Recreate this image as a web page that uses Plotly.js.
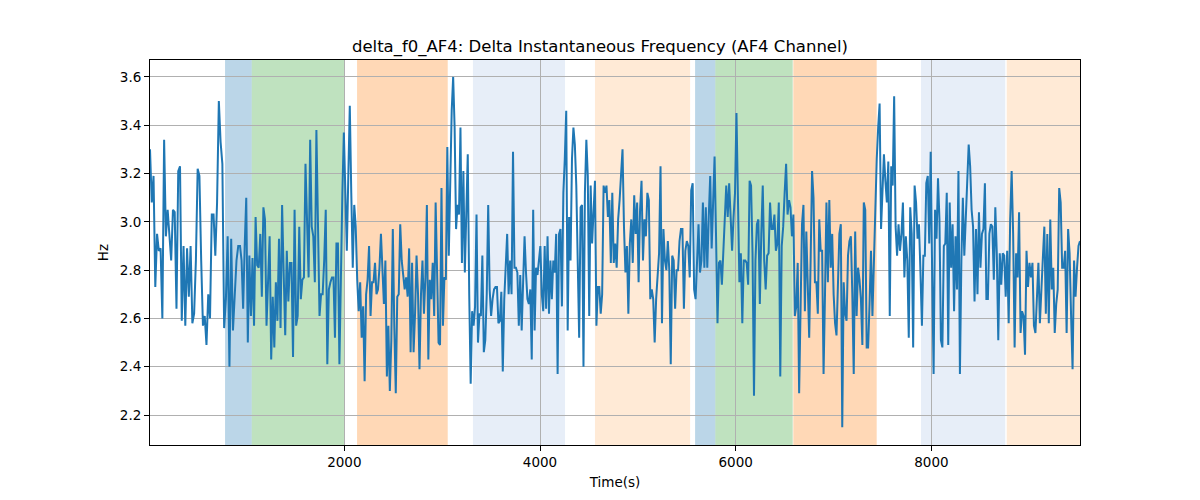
<!DOCTYPE html>
<html>
<head>
<meta charset="utf-8">
<script src="https://cdn.plot.ly/plotly-3.0.1.min.js"></script>
<style>html,body{margin:0;padding:0;background:#fff;}#chart{width:1200px;height:500px;}</style>
</head>
<body>
<div id="chart"></div>
<script>
// time stamps (seconds) where each block of readings below begins; last entry = end of signal
const segTimes = [14, 934, 1874, 2814, 3754, 4694, 5635, 6575, 7515, 8456, 9519];

// delta f0 values (Hz), read left to right, one block per time span above
const seg1 = [3.30,3.08,3.19,2.73,2.95,2.88,2.89,2.60,3.34,2.94,3.05,2.94,2.84,3.05,3.04,2.64,3.21,3.23,2.59,2.90,2.57,2.89,2.69,2.90,2.58,2.62,2.84,3.22,3.19,2.84,2.57,2.61,2.49,2.70,2.60,3.03,3.03,2.86,3.08,3.50,3.33,3.24,2.56,2.68,2.94,2.40,2.93,2.55,2.72,2.84,2.90];
const seg2 = [2.90,2.84,2.64,2.90,3.10,2.50,2.86,2.61,2.85,2.57,3.02,2.82,2.81,2.95,2.69,3.06,3.01,2.57,2.77,2.94,2.43,2.69,2.48,2.75,2.59,2.93,2.56,3.07,2.79,2.53,2.88,2.67,2.83,2.83,2.44,3.05,2.57,2.61,2.98,2.68,2.76,2.77,3.24,2.98,2.77,3.34,2.98,2.94,2.75,3.38,2.95,2.61,2.70,2.70,2.84,3.05,2.41,2.72,2.75];
const seg3 = [2.77,2.77,2.52,2.91,2.91,2.41,2.84,3.12,3.37,3.12,2.88,3.19,3.48,3.12,2.81,3.07,2.98,2.76,2.63,2.75,2.52,2.65,2.34,2.70,2.76,2.90,2.61,2.75,2.75,2.83,2.70,2.72,2.81,2.95,2.77,2.66,2.84,2.36,2.57,2.30,2.51,2.97,2.57,2.29,2.69,2.70,2.99,2.84,2.78,2.72,2.77,2.69,2.89,2.46,2.83,2.46,2.62,2.86,2.70,2.39,2.70,2.84];
const seg4 = [2.62,2.77,3.07,2.43,2.76,2.68,2.83,2.61,3.08,2.70,2.50,2.49,3.14,2.57,2.77,2.76,3.31,2.86,3.26,3.46,3.60,3.39,2.97,3.07,3.03,3.39,2.83,3.21,2.79,3.03,3.28,2.70,2.33,2.63,2.57,2.65,3.03,2.50,2.62,2.61,2.86,2.46,2.51,2.70,3.07,2.72,2.61,2.68,2.72,2.73,2.73,2.58,2.59,2.71,2.38,2.68,2.81,2.95,2.70,2.84,2.70,3.29,2.81];
const seg5 = [2.81,2.79,2.57,2.78,2.55,2.75,2.94,2.79,2.68,2.66,2.72,2.43,3.05,2.55,2.81,2.78,2.84,2.90,2.70,2.63,2.90,2.64,2.94,2.62,2.84,2.68,2.84,2.79,2.95,2.37,2.95,2.97,2.65,3.12,3.26,3.46,2.55,3.02,2.84,3.26,3.39,3.32,3.15,2.87,2.52,3.06,3.07,2.40,3.12,3.34,3.19,2.61,3.15,2.91,3.05,3.17,2.57,2.73,2.73,2.62,2.70,3.15,3.12,3.15];
const seg6 = [3.02,3.09,2.83,3.12,2.83,2.91,2.81,3.01,3.09,3.19,3.30,2.98,2.79,2.90,2.62,2.91,3.01,2.83,3.11,2.95,3.08,2.75,3.05,3.17,2.84,3.01,2.94,3.12,3.09,2.68,2.72,2.68,2.50,2.68,2.80,2.87,3.23,2.58,2.97,2.84,2.80,2.92,2.80,2.41,2.86,2.84,2.64,2.80,2.80,2.92,2.97,2.97,2.64,2.88,2.92,2.90,2.77,3.13,3.16,2.72,2.68,2.84,2.99];
const seg7 = [2.79,2.84,3.08,2.81,3.06,2.81,3.02,3.19,2.89,3.05,3.27,2.94,2.58,2.83,2.84,2.74,2.87,3.02,3.15,3.02,3.16,3.02,2.88,3.02,3.12,3.45,3.02,2.75,2.87,2.58,2.84,2.84,2.83,2.74,3.17,3.15,2.87,2.28,2.84,2.99,3.01,2.66,2.95,3.15,2.84,2.72,2.86,2.87,3.08,2.97,2.97,3.03,2.88,2.91,3.08,2.36,2.90,2.98,3.12,3.24,3.03,3.09,3.06];
const seg8 = [2.94,3.03,2.61,2.65,2.83,2.29,2.62,2.99,3.07,2.63,2.96,2.70,2.52,2.84,3.21,3.10,2.75,2.75,2.62,3.01,2.88,2.88,2.37,2.70,3.08,2.75,3.09,2.81,2.95,2.70,2.58,2.53,2.75,2.95,2.99,2.15,2.75,2.62,2.59,2.86,2.92,2.94,2.70,2.37,2.96,2.61,2.81,2.76,2.68,2.49,3.08,3.05,2.48,2.48,2.66,2.88,2.61,2.87,3.12,3.26,3.39,3.49,2.97,3.12];
const seg9 = [3.28,3.17,3.08,3.25,2.61,3.23,3.15,3.52,2.98,2.86,2.99,2.88,2.95,3.08,2.77,2.94,2.84,2.52,3.06,2.95,2.48,3.15,3.08,2.93,2.99,2.79,2.57,2.86,2.86,3.16,3.19,2.91,3.29,2.79,2.37,3.05,2.93,3.18,3.01,2.51,2.48,2.90,2.91,3.12,2.49,3.08,2.81,2.99,2.63,2.94,2.72,3.21,2.37,2.84,3.10,2.86,3.01,3.17,3.32,3.23,3.05,2.98,2.67];
const seg10 = [2.97,2.70,3.04,2.81,2.95,2.97,3.16,2.68,2.68,2.95,2.99,2.98,2.76,3.06,2.87,2.51,2.87,2.74,2.87,2.86,2.69,2.88,2.58,3.01,3.21,2.95,2.48,2.87,2.77,3.04,2.54,2.63,2.61,2.45,2.88,2.73,2.83,2.77,2.83,2.57,2.54,2.70,2.83,2.58,2.76,2.85,2.98,2.62,2.95,2.58,3.01,2.72,2.81,2.54,2.66,2.72,3.14,3.08,2.81,2.81,2.88,2.54,2.97,2.87,2.61,2.39,2.84,2.69,2.81,2.90,2.92];

// shaded condition intervals [start, end] in seconds and their colours
const bandStarts = [781, 1054, 2130, 3315, 4562, 5585, 5792, 6589, 7894, 8770];
const bandEnds   = [1054, 2000, 3057, 4256, 5534, 5792, 6583, 7441, 8755, 9519];
const bandColors = ['#1f77b4','#2ca02c','#ff7f0e','#aec7e8','#ffbb78','#1f77b4','#2ca02c','#ff7f0e','#aec7e8','#ffbb78'];

// axis ticks
const yTicks = [2.2, 2.4, 2.6, 2.8, 3.0, 3.2, 3.4, 3.6];
const yTickLabels = ['2.2','2.4','2.6','2.8','3.0','3.2','3.4','3.6'];
const xTicks = [2000, 4000, 6000, 8000];
const xTickLabels = ['2000','4000','6000','8000'];

const segs = [seg1, seg2, seg3, seg4, seg5, seg6, seg7, seg8, seg9, seg10];
const times = [], values = [];
segs.forEach((seg, k) => {
  const s = segTimes[k], e = segTimes[k + 1];
  const last = k === segs.length - 1;
  const div = last ? seg.length - 1 : seg.length;
  seg.forEach((v, i) => { times.push(s + (e - s) * i / div); values.push(v); });
});

const shapes = bandStarts.map((s, i) => ({
  type: 'rect', xref: 'x', yref: 'paper',
  x0: s, x1: bandEnds[i], y0: 0, y1: 1,
  fillcolor: bandColors[i], opacity: 0.3,
  line: {width: 0}, layer: 'below'
}));

const font = {family: 'DejaVu Sans, sans-serif', size: 13.5, color: '#000'};

const trace = {
  x: times, y: values, type: 'scatter', mode: 'lines',
  line: {color: '#1f77b4', width: 2}, hoverinfo: 'skip'
};

const layout = {
  width: 1200, height: 500,
  margin: {l: 150, r: 120, t: 60, b: 55},
  paper_bgcolor: '#fff', plot_bgcolor: '#fff',
  showlegend: false,
  font: font,
  title: {text: 'delta_f0_AF4: Delta Instantaneous Frequency (AF4 Channel)',
          font: {family: 'DejaVu Sans, sans-serif', size: 16.5, color: '#000'},
          x: 0.5, xanchor: 'center', y: 0.908, yanchor: 'middle'},
  xaxis: {
    range: [14, 9519], tickvals: xTicks, ticktext: xTickLabels,
    showgrid: true, gridcolor: '#b0b0b0', gridwidth: 1,
    zeroline: false, showline: true, linecolor: '#000', linewidth: 1, mirror: true,
    ticks: 'outside', ticklen: 5, tickcolor: '#000', tickwidth: 1,
    title: {text: 'Time(s)', font: font, standoff: 8}
  },
  yaxis: {
    range: [2.076, 3.67], tickvals: yTicks, ticktext: yTickLabels,
    showgrid: true, gridcolor: '#b0b0b0', gridwidth: 1,
    zeroline: false, showline: true, linecolor: '#000', linewidth: 1, mirror: true,
    ticks: 'outside', ticklen: 5, tickcolor: '#000', tickwidth: 1,
    title: {text: 'Hz', font: font, standoff: 8}
  },
  shapes: shapes
};

Plotly.newPlot('chart', [trace], layout, {staticPlot: true, displayModeBar: false});
</script>
</body>
</html>
